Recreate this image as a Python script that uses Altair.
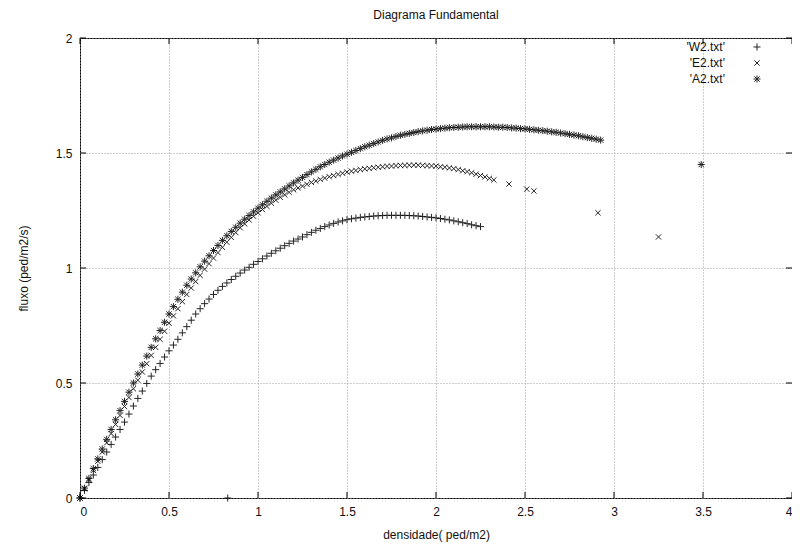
import altair as alt
import pandas as pd

# ---- data ----
series_names = ["'W2.txt'", "'E2.txt'", "'A2.txt'"]

w2_x = [0.000, 0.025, 0.050, 0.075, 0.100, 0.125, 0.150, 0.175, 0.200, 0.225, 0.250, 0.275,
        0.300, 0.325, 0.350, 0.375, 0.400, 0.425, 0.450, 0.475, 0.500, 0.525, 0.550, 0.575,
        0.600, 0.625, 0.650, 0.675, 0.700, 0.725, 0.750, 0.775, 0.800, 0.825, 0.850, 0.875,
        0.900, 0.925, 0.950, 0.975, 1.000, 1.025, 1.050, 1.075, 1.100, 1.125, 1.150, 1.175,
        1.200, 1.225, 1.250, 1.275, 1.300, 1.325, 1.350, 1.375, 1.400, 1.425, 1.450, 1.475,
        1.500, 1.525, 1.550, 1.575, 1.600, 1.625, 1.650, 1.675, 1.700, 1.725, 1.750, 1.775,
        1.800, 1.825, 1.850, 1.875, 1.900, 1.925, 1.950, 1.975, 2.000, 2.025, 2.050, 2.075,
        2.100, 2.125, 2.150, 2.175, 2.200, 2.225, 2.250, 0.830]
w2_y = [0.000, 0.033, 0.067, 0.100, 0.133, 0.167, 0.200, 0.233, 0.265, 0.298, 0.330, 0.365,
        0.400, 0.433, 0.465, 0.498, 0.530, 0.558, 0.585, 0.613, 0.640, 0.665, 0.690, 0.718,
        0.745, 0.773, 0.800, 0.823, 0.845, 0.865, 0.885, 0.903, 0.920, 0.935, 0.950, 0.964,
        0.978, 0.991, 1.003, 1.016, 1.028, 1.040, 1.052, 1.064, 1.075, 1.086, 1.097, 1.107,
        1.117, 1.126, 1.135, 1.145, 1.155, 1.164, 1.172, 1.180, 1.187, 1.194, 1.200, 1.205,
        1.210, 1.214, 1.217, 1.220, 1.222, 1.224, 1.226, 1.227, 1.228, 1.229, 1.229, 1.229,
        1.229, 1.229, 1.228, 1.227, 1.226, 1.224, 1.222, 1.220, 1.218, 1.215, 1.212, 1.209,
        1.205, 1.201, 1.197, 1.193, 1.188, 1.184, 1.180, 0.000]

e2_x = [0.000, 0.025, 0.050, 0.075, 0.100, 0.125, 0.150, 0.175, 0.200, 0.225, 0.250, 0.275,
        0.300, 0.325, 0.350, 0.375, 0.400, 0.425, 0.450, 0.475, 0.500, 0.525, 0.550, 0.575,
        0.600, 0.625, 0.650, 0.675, 0.700, 0.725, 0.750, 0.775, 0.800, 0.825, 0.850, 0.875,
        0.900, 0.925, 0.950, 0.975, 1.000, 1.025, 1.050, 1.075, 1.100, 1.125, 1.150, 1.175,
        1.200, 1.225, 1.250, 1.275, 1.300, 1.325, 1.350, 1.375, 1.400, 1.425, 1.450, 1.475,
        1.500, 1.525, 1.550, 1.575, 1.600, 1.625, 1.650, 1.675, 1.700, 1.725, 1.750, 1.775,
        1.800, 1.825, 1.850, 1.875, 1.900, 1.925, 1.950, 1.975, 2.000, 2.025, 2.050, 2.075,
        2.100, 2.125, 2.150, 2.175, 2.200, 2.225, 2.250, 2.275, 2.300, 2.325,
        2.410, 2.510, 2.550, 2.910, 3.250]
e2_y = [0.000, 0.040, 0.080, 0.120, 0.160, 0.200, 0.240, 0.280, 0.320, 0.359, 0.398, 0.437,
        0.475, 0.512, 0.548, 0.584, 0.620, 0.655, 0.690, 0.725, 0.760, 0.792, 0.823, 0.854,
        0.885, 0.913, 0.941, 0.968, 0.995, 1.019, 1.043, 1.067, 1.090, 1.112, 1.133, 1.154,
        1.175, 1.192, 1.209, 1.225, 1.240, 1.254, 1.268, 1.282, 1.295, 1.307, 1.318, 1.329,
        1.340, 1.348, 1.356, 1.364, 1.372, 1.378, 1.385, 1.391, 1.397, 1.402, 1.407, 1.412,
        1.417, 1.421, 1.424, 1.428, 1.431, 1.433, 1.436, 1.438, 1.440, 1.442, 1.443, 1.445,
        1.446, 1.446, 1.447, 1.447, 1.447, 1.446, 1.445, 1.444, 1.443, 1.440, 1.438, 1.435,
        1.432, 1.428, 1.423, 1.419, 1.414, 1.408, 1.402, 1.396, 1.390, 1.383,
        1.365, 1.343, 1.335, 1.240, 1.135]

a2_x = [0.000, 0.025, 0.050, 0.075, 0.100, 0.125, 0.150, 0.175, 0.200, 0.225, 0.250, 0.275,
        0.300, 0.325, 0.350, 0.375, 0.400, 0.425, 0.450, 0.475, 0.500, 0.525, 0.550, 0.575,
        0.600, 0.625, 0.650, 0.675, 0.700, 0.725, 0.750, 0.775, 0.800, 0.825, 0.850, 0.875,
        0.900, 0.925, 0.950, 0.975, 1.000, 1.025, 1.050, 1.075, 1.100, 1.125, 1.150, 1.175,
        1.200, 1.225, 1.250, 1.275, 1.300, 1.325, 1.350, 1.375, 1.400, 1.425, 1.450, 1.475,
        1.500, 1.525, 1.550, 1.575, 1.600, 1.625, 1.650, 1.675, 1.700, 1.725, 1.750, 1.775,
        1.800, 1.825, 1.850, 1.875, 1.900, 1.925, 1.950, 1.975, 2.000, 2.025, 2.050, 2.075,
        2.100, 2.125, 2.150, 2.175, 2.200, 2.225, 2.250, 2.275, 2.300, 2.325, 2.350, 2.375,
        2.400, 2.425, 2.450, 2.475, 2.500, 2.525, 2.550, 2.575, 2.600, 2.625, 2.650, 2.675,
        2.700, 2.725, 2.750, 2.775, 2.800, 2.825, 2.850, 2.875, 2.900, 2.925, 3.490]
a2_y = [0.000, 0.043, 0.085, 0.128, 0.170, 0.213, 0.255, 0.298, 0.340, 0.380, 0.420, 0.460,
        0.500, 0.539, 0.578, 0.617, 0.655, 0.692, 0.728, 0.764, 0.800, 0.832, 0.864, 0.895,
        0.925, 0.952, 0.979, 1.005, 1.030, 1.053, 1.076, 1.098, 1.120, 1.140, 1.159, 1.177,
        1.195, 1.212, 1.228, 1.244, 1.260, 1.275, 1.290, 1.304, 1.318, 1.331, 1.344, 1.357,
        1.370, 1.382, 1.394, 1.406, 1.418, 1.429, 1.440, 1.450, 1.460, 1.469, 1.478, 1.487,
        1.495, 1.503, 1.511, 1.519, 1.527, 1.534, 1.541, 1.548, 1.555, 1.561, 1.566, 1.572,
        1.577, 1.581, 1.585, 1.589, 1.593, 1.596, 1.599, 1.602, 1.604, 1.606, 1.608, 1.610,
        1.611, 1.612, 1.613, 1.614, 1.614, 1.614, 1.614, 1.614, 1.614, 1.613, 1.612, 1.612,
        1.611, 1.609, 1.608, 1.606, 1.605, 1.603, 1.601, 1.599, 1.597, 1.595, 1.592, 1.590,
        1.587, 1.584, 1.581, 1.578, 1.575, 1.571, 1.567, 1.564, 1.560, 1.556, 1.450]

x_ticks = [0, 0.5, 1, 1.5, 2, 2.5, 3, 3.5, 4]
y_ticks = [0, 0.5, 1, 1.5, 2]

title_text = "Diagrama Fundamental"
x_title = "densidade( ped/m2)"
y_title = "fluxo (ped/m2/s)"

# marker glyphs (gnuplot style): plus, cross, asterisk
marker_paths = [
    "M-1,0L1,0M0,-1L0,1",
    "M-0.75,-0.75L0.75,0.75M-0.75,0.75L0.75,-0.75",
    "M-1,0L1,0M0,-1L0,1M-0.75,-0.75L0.75,0.75M-0.75,0.75L0.75,-0.75",
]

# ---- build tables ----
frames = []
for name, xs, ys in zip(series_names, [w2_x, e2_x, a2_x], [w2_y, e2_y, a2_y]):
    frames.append(pd.DataFrame({"series": name, "x": xs, "y": ys}))
df = pd.concat(frames, ignore_index=True)
xt_df = pd.DataFrame({"t": x_ticks})
yt_df = pd.DataFrame({"t": y_ticks})

W, H = 712, 460
FONT = "Liberation Sans"
TXT = "#111111"

xscale = alt.Scale(domain=[0, 4], nice=False, zero=False)
yscale = alt.Scale(domain=[0, 2], nice=False, zero=False)
shape_scale = alt.Scale(domain=series_names, range=marker_paths)

x_axis = alt.Axis(values=x_ticks, format="~g", ticks=False, domain=False,
                  grid=True, gridDash=[1, 2], gridColor="#9a9a9a",
                  labelPadding=8, titlePadding=12,
                  labelFont=FONT, labelFontSize=12, labelColor=TXT,
                  titleFont=FONT, titleFontSize=12, titleFontWeight="normal",
                  titleColor=TXT)
y_axis = alt.Axis(values=y_ticks, format="~g", ticks=False, domain=False,
                  grid=True, gridDash=[1, 2], gridColor="#9a9a9a",
                  labelPadding=8, titlePadding=25,
                  labelFont=FONT, labelFontSize=12, labelColor=TXT,
                  titleFont=FONT, titleFontSize=12, titleFontWeight="normal",
                  titleColor=TXT)

points = alt.Chart(df).mark_point(
    filled=False, strokeWidth=1, color="black", size=50, opacity=0.85
).encode(
    x=alt.X("x:Q", scale=xscale, title=x_title, axis=x_axis),
    y=alt.Y("y:Q", scale=yscale, title=y_title, axis=y_axis),
    shape=alt.Shape("series:N", scale=shape_scale, legend=None),
)

tick_len = 6
bottom_ticks = alt.Chart(xt_df).mark_rule(color="black", strokeWidth=1).encode(
    x=alt.X("t:Q", scale=xscale, title=x_title, axis=x_axis),
    y=alt.value(H), y2=alt.value(H - tick_len))
top_ticks = alt.Chart(xt_df).mark_rule(color="black", strokeWidth=1).encode(
    x=alt.X("t:Q", scale=xscale, title=x_title, axis=x_axis),
    y=alt.value(0), y2=alt.value(tick_len))
left_ticks = alt.Chart(yt_df).mark_rule(color="black", strokeWidth=1).encode(
    y=alt.Y("t:Q", scale=yscale, title=y_title, axis=y_axis),
    x=alt.value(0), x2=alt.value(tick_len))
right_ticks = alt.Chart(yt_df).mark_rule(color="black", strokeWidth=1).encode(
    y=alt.Y("t:Q", scale=yscale, title=y_title, axis=y_axis),
    x=alt.value(W), x2=alt.value(W - tick_len))

# gnuplot-style key: label right-aligned, glyph to its right
key_layers = []
for i, name in enumerate(series_names):
    row = pd.DataFrame({"series": [name]})
    ky = 9 + 16 * i
    key_layers.append(
        alt.Chart(row).mark_text(align="right", baseline="middle", font=FONT,
                                 fontSize=12, color=TXT).encode(
            text="series:N", x=alt.value(645), y=alt.value(ky)))
    key_layers.append(
        alt.Chart(row).mark_point(filled=False, strokeWidth=1, color="black",
                                  size=50, opacity=0.85).encode(
            shape=alt.Shape("series:N", scale=shape_scale, legend=None),
            x=alt.value(677), y=alt.value(ky)))

chart = alt.layer(points, bottom_ticks, top_ticks, left_ticks, right_ticks,
                  *key_layers).properties(
    width=W, height=H,
    title=alt.Title(title_text, fontSize=12, font=FONT, fontWeight="normal",
                    color=TXT, anchor="middle", offset=10),
    autosize=alt.AutoSizeParams(type="none"),
    padding={"left": 72, "top": 30, "right": 0, "bottom": 45},
    background="white",
).configure_view(
    stroke="black", strokeWidth=1
)

chart.save("out.html", embed_options={"renderer": "svg", "actions": False})
